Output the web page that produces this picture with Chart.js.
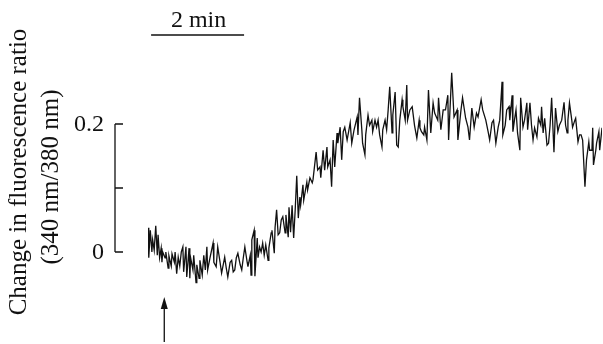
<!DOCTYPE html>
<html>
<head>
<meta charset="utf-8">
<script src="https://cdn.jsdelivr.net/npm/chart.js@4/dist/chart.umd.min.js"></script>
<style>
  html, body { margin: 0; padding: 0; background: #fff; }
  #wrap { width: 603px; height: 344px; position: relative; }
  #probe { position: absolute; left: -9999px; top: 0; font: 24px "Liberation Serif", "Times New Roman", serif; }
</style>
</head>
<body>
<div id="wrap"><canvas id="trace" width="603" height="344"></canvas></div>
<span id="probe">Change 0.2 min</span>
<script>
// time after start of recording (s)
var times = [0,1,3,5,6,8,10,12,13,15,17,18,19,22,23,26,27,30,31,34,35,37,39,41,43,45,46,49,50,53,
	54,55,58,59,62,63,66,67,70,72,74,76,77,80,84,85,88,90,93,95,99,101,103,106,108,110,112,114,116,119,
	121,123,125,128,129,132,133,134,137,138,141,142,144,146,148,150,152,155,156,159,160,163,164,166,168,170,172,174,177,178,
	181,182,184,186,188,190,192,194,196,197,200,201,205,206,209,212,213,217,219,222,223,226,228,231,232,235,237,239,241,244,
	245,248,250,252,254,257,261,263,266,270,271,273,276,277,280,281,284,286,289,290,293,295,297,299,302,303,306,308,310,312,
	315,316,319,321,323,325,328,329,332,334,335,338,341,342,344,347,350,351,353,356,357,360,362,365,368,370,374,375,378,381,
	384,387,388,392,395,399,400,404,406,410,413,415,418,421,424,426,430,432,436,439,441,444,446,449,452,454,457,458,461,463,
	466,467,470,471,473,475,477,480,481,484,486,489,490,493,495,497,499,502,504,507,508,510,512,515,517,519,521,524,526,529,
	531,534,537,539,541,542,544,547,548,551,552,555,557,559,561,564,566,569,570,573,574,575,578,579,582,583,586];

// change in 340/380 fluorescence ratio
var ratio = [0.038,-0.009,0.034,0,0.019,0.003,0.041,-0.005,0.027,-0.009,0.006,-0.016,0,-0.009,0,-0.025,-0.006,-0.022,-0.003,-0.016,0,-0.034,-0.008,-0.022,0,0.008,-0.031,0.008,-0.039,0.006,
	-0.041,-0.009,-0.028,-0.005,-0.048,-0.020,-0.041,-0.013,-0.036,-0.005,-0.028,0.008,-0.028,-0.009,0.014,-0.016,-0.023,0.008,-0.016,-0.033,-0.008,-0.025,-0.039,-0.016,-0.013,-0.031,-0.028,-0.009,-0.002,-0.020,
	-0.028,-0.009,0.008,-0.016,-0.023,-0.005,-0.036,0.019,0.034,-0.038,0.022,-0.009,0.008,0,0.014,-0.005,0.011,-0.013,0.006,0.030,0.034,-0.002,0.038,0.066,0.027,0.030,0.050,0.055,0.030,0.058,
	0.023,0.070,0.031,0.073,0.022,0.066,0.119,0.053,0.086,0.073,0.105,0.081,0.109,0.097,0.116,0.108,0.113,0.156,0.128,0.133,0.116,0.159,0.128,0.164,0.133,0.144,0.102,0.175,0.133,0.186,
	0.170,0.195,0.144,0.188,0.195,0.175,0.202,0.170,0.191,0.211,0.183,0.241,0.191,0.170,0.152,0.183,0.214,0.198,0.206,0.188,0.206,0.195,0.206,0.183,0.164,0.191,0.206,0.191,0.222,0.258,
	0.186,0.214,0.250,0.167,0.164,0.206,0.238,0.227,0.206,0.261,0.206,0.222,0.227,0.227,0.198,0.178,0.206,0.194,0.188,0.183,0.195,0.175,0.253,0.186,0.233,0.217,0.206,0.241,0.191,0.222,
	0.222,0.245,0.175,0.280,0.211,0.222,0.175,0.222,0.241,0.209,0.195,0.175,0.225,0.195,0.217,0.211,0.238,0.222,0.206,0.188,0.175,0.202,0.206,0.170,0.195,0.206,0.266,0.183,0.198,0.222,
	0.227,0.206,0.245,0.188,0.206,0.222,0.186,0.159,0.241,0.195,0.206,0.233,0.191,0.233,0.198,0.175,0.194,0.180,0.209,0.198,0.227,0.186,0.209,0.167,0.170,0.198,0.241,0.156,0.225,0.188,
	0.198,0.206,0.234,0.198,0.186,0.206,0.233,0.206,0.195,0.206,0.209,0.172,0.183,0.183,0.175,0.102,0.144,0.172,0.159,0.159,0.194,0.136,0.159,0.170,0.188,0.159,0.194];

var yTicks = [0, 0.1, 0.2];
var yTickLabels = ["0", "", "0.2"];
var stimulusTime = 21;        // arrow (s)
var scaleBar = [4, 124];      // 2 min (s)

var points = [];
for (var i = 0; i < times.length; i++) {
	points.push({ x: times[i], y: ratio[i] });
}

var serif = "\"Liberation Serif\", \"Times New Roman\", serif";
var ink = "#111";

var decor = {
	id: "decor",
	afterDraw: function(chart) {
		var ctx = chart.ctx;
		var xs = chart.scales.x, ys = chart.scales.y;
		var axisX = chart.chartArea.left - 33;
		ctx.save();
		ctx.strokeStyle = ink;
		ctx.fillStyle = ink;
		ctx.lineWidth = 1.3;

		// y axis with inward ticks
		ctx.beginPath();
		ctx.moveTo(axisX, ys.getPixelForValue(yTicks[0]));
		ctx.lineTo(axisX, ys.getPixelForValue(yTicks[yTicks.length - 1]));
		for (var i = 0; i < yTicks.length; i++) {
			var py = ys.getPixelForValue(yTicks[i]);
			ctx.moveTo(axisX, py);
			ctx.lineTo(axisX + 8, py);
		}
		ctx.stroke();

		ctx.font = "24px " + serif;
		ctx.textAlign = "right";
		ctx.textBaseline = "middle";
		for (var i = 0; i < yTicks.length; i++) {
			if (yTickLabels[i]) ctx.fillText(yTickLabels[i], axisX - 11, ys.getPixelForValue(yTicks[i]) + 1);
		}

		// y title
		ctx.font = "25px " + serif;
		ctx.save();
		ctx.translate(19, 172);
		ctx.rotate(-Math.PI / 2);
		ctx.textAlign = "center";
		ctx.fillText("Change in fluorescence ratio", 0, 0);
		ctx.restore();
		ctx.save();
		ctx.translate(51, 177);
		ctx.rotate(-Math.PI / 2);
		ctx.textAlign = "center";
		ctx.fillText("(340 nm/380 nm)", 0, 0);
		ctx.restore();

		// time scale bar
		ctx.font = "24px " + serif;
		var x1 = xs.getPixelForValue(scaleBar[0]), x2 = xs.getPixelForValue(scaleBar[1]);
		ctx.beginPath();
		ctx.moveTo(x1, 35);
		ctx.lineTo(x2, 35);
		ctx.stroke();
		ctx.textAlign = "center";
		ctx.textBaseline = "alphabetic";
		ctx.fillText("2 min", (x1 + x2) / 2 + 1, 27);

		// stimulus arrow
		var ax = xs.getPixelForValue(stimulusTime);
		ctx.beginPath();
		ctx.moveTo(ax, 342);
		ctx.lineTo(ax, 304);
		ctx.stroke();
		ctx.beginPath();
		ctx.moveTo(ax, 297);
		ctx.lineTo(ax - 3.5, 309);
		ctx.lineTo(ax + 3.5, 309);
		ctx.closePath();
		ctx.fill();
		ctx.restore();
	}
};

function draw() {
	var ctx = document.getElementById("trace").getContext("2d");
	new Chart(ctx, {
		type: "line",
		data: {
			datasets: [{
				data: points,
				borderColor: "#111",
				borderWidth: 1.3,
				pointRadius: 0,
				tension: 0,
				fill: false
			}]
		},
		options: {
			responsive: false,
			animation: false,
			layout: { padding: { left: 148, right: 1, top: 60, bottom: 28 } },
			plugins: { legend: { display: false }, tooltip: { enabled: false } },
			scales: {
				x: { type: "linear", min: 0, max: 586, display: false },
				y: { min: -0.1, max: 0.3, display: false }
			}
		},
		plugins: [decor]
	});
}

if (document.fonts && document.fonts.load) {
	document.fonts.load("24px \"Liberation Serif\"").then(draw, draw);
} else {
	draw();
}
</script>
</body>
</html>
